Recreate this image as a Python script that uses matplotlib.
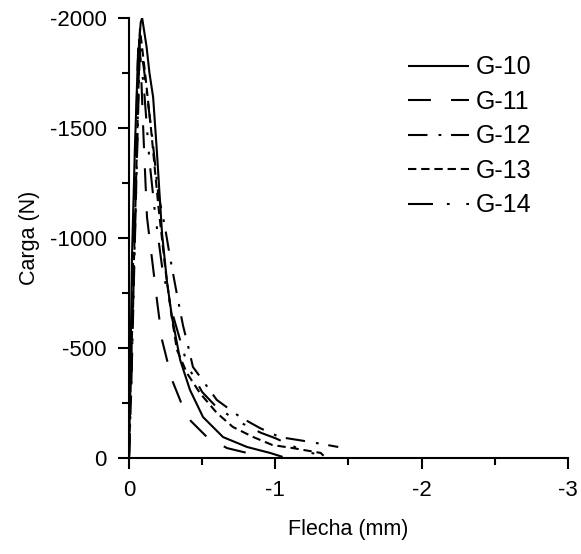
import matplotlib
matplotlib.use("Agg")
import matplotlib.pyplot as plt
from matplotlib.ticker import MultipleLocator

plt.rcParams['font.family'] = ['Liberation Sans', 'DejaVu Sans']
plt.rcParams['font.size'] = 16
plt.rcParams['lines.scale_dashes'] = False

# flecha (mm) y carga (N)
x_g10 = [0, -0.01, -0.02, -0.04, -0.06, -0.08, -0.09, -0.12, -0.14, -0.165, -0.19, -0.226,
         -0.26, -0.294, -0.35, -0.417, -0.506, -0.643, -0.807, -0.964, -1.05]
y_g10 = [0, -400, -900, -1400, -1800, -1980, -2000, -1870, -1750, -1640, -1400, -1020,
         -800, -640, -445, -309, -186, -95, -50, -23, -5]

x_g11 = [0, -0.01, -0.025, -0.045, -0.065, -0.08, -0.1, -0.123, -0.164, -0.191, -0.226,
         -0.294, -0.396, -0.533, -0.67, -0.807, -0.9]
y_g11 = [0, -350, -800, -1400, -1930, -1800, -1450, -1095, -868, -718, -536,
         -355, -186, -95, -45, -23, -5]

x_g12 = [0, -0.015, -0.03, -0.05, -0.075, -0.1, -0.16, -0.2, -0.246, -0.28, -0.335, -0.37,
         -0.4, -0.437, -0.6, -0.76, -0.895, -1.03, -1.24, -1.43]
y_g12 = [0, -300, -700, -1250, -1880, -1780, -1450, -1200, -1050, -914, -718, -600,
         -520, -414, -264, -186, -136, -95, -73, -50]

x_g13 = [0, -0.012, -0.03, -0.05, -0.075, -0.11, -0.15, -0.2, -0.25, -0.29, -0.328, -0.396,
         -0.485, -0.6, -0.71, -0.85, -0.98, -1.12, -1.31, -1.33]
y_g13 = [0, -350, -800, -1300, -1950, -1750, -1500, -1150, -850, -650, -491, -386,
         -295, -205, -141, -95, -59, -45, -23, -10]

x_g14 = [0, -0.015, -0.03, -0.05, -0.07, -0.1, -0.14, -0.18, -0.23, -0.3, -0.4, -0.5,
         -0.6, -0.75, -0.9, -1.0, -1.1, -1.2, -1.3]
y_g14 = [0, -300, -750, -1250, -1850, -1700, -1350, -1100, -850, -650, -420, -300,
         -230, -165, -115, -90, -60, -30, -15]

labels = ['G-10', 'G-11', 'G-12', 'G-13', 'G-14']

fig = plt.figure(figsize=(5.81, 5.54), dpi=100)
ax = fig.add_axes([0.222, 0.1733, 0.7556, 0.7942])

estilos = [(0, ()), (0, (16.5, 14.5)), (0, (14, 8, 2, 7)), (0, (6, 3.5)),
           (0, (18, 10, 2, 12, 2, 10))]
datos = [(x_g10, y_g10), (x_g11, y_g11), (x_g12, y_g12), (x_g13, y_g13), (x_g14, y_g14)]
for (xs, ys), est, lab in zip(datos, estilos, labels):
    ax.plot(xs, ys, color='black', lw=1.5, linestyle=est, label=lab)

ax.set_xlim(0, -3)
ax.set_ylim(0, -2000)
ax.xaxis.set_major_locator(MultipleLocator(1))
ax.xaxis.set_minor_locator(MultipleLocator(0.5))
ax.yaxis.set_major_locator(MultipleLocator(500))
ax.yaxis.set_minor_locator(MultipleLocator(250))
ax.tick_params(which='major', length=8, width=1.5, direction='out', pad=8)
ax.tick_params(which='minor', length=5, width=1.5, direction='out')
ax.spines['top'].set_visible(False)
ax.spines['right'].set_visible(False)
ax.spines['left'].set_linewidth(1.5)
ax.spines['bottom'].set_linewidth(1.5)
ax.xaxis.set_major_formatter(plt.FuncFormatter(lambda v, p: '%g' % v if v != 0 else '0'))
ax.yaxis.set_major_formatter(plt.FuncFormatter(lambda v, p: '%g' % v if v != 0 else '0'))

ax.set_xlabel('Flecha (mm)', fontsize=15.5, labelpad=13)
ax.set_ylabel('Carga (N)', fontsize=15.5, labelpad=7)

ax.legend(loc='upper left', bbox_to_anchor=(0.636, 0.915), frameon=False,
          borderaxespad=0, borderpad=0, handlelength=2.45, handletextpad=0.25,
          labelspacing=0.42, fontsize=18)

plt.savefig('out.png', dpi=100)
